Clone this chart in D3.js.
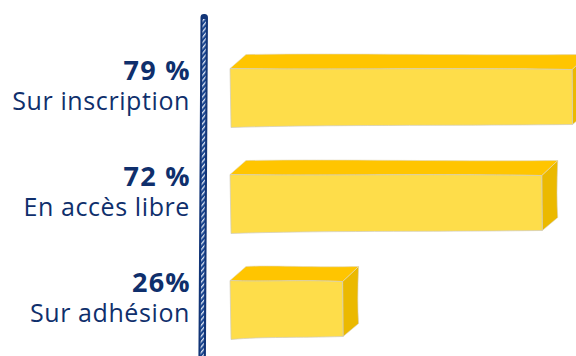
<!DOCTYPE html>
<html>
<head>
<meta charset="utf-8">
<script src="https://cdn.jsdelivr.net/npm/d3@7"></script>
<style>
  html, body { margin: 0; padding: 0; background: #ffffff; }
  svg { display: block; }
</style>
</head>
<body>
<div id="chart"></div>
<script>
// chart values
const categories = ["Sur inscription", "En accès libre", "Sur adhésion"];
const percents = [79, 72, 26];
const percentLabels = ["79 %", "72 %", "26%"];

const svgWidth = 576, svgHeight = 356;
const navy = "#0f2f6c";
const depthX = 16, depthY = -14;   // 3d offset of the blocks
const barH = 57;

const svg = d3.select("#chart")
    .append("svg")
    .attr("width", svgWidth)
    .attr("height", svgHeight);

const x = d3.scaleLinear().domain([0, 100]).range([230, 663]);
const y = d3.scalePoint().domain(categories).range([97, 309]);

// hatched pattern for the axis stroke
const defs = svg.append("defs");
const pat = defs.append("pattern")
    .attr("id", "hatch")
    .attr("patternUnits", "userSpaceOnUse")
    .attr("width", 3.5).attr("height", 3.5)
    .attr("patternTransform", "rotate(-50)");
pat.append("rect").attr("width", 3.5).attr("height", 3.5).attr("fill", "#1b4791");
pat.append("rect").attr("width", 3.5).attr("height", 1.3).attr("fill", "#dfe6f3");

// axis line (hand drawn, slightly tilted)
const axisG = svg.append("g").attr("transform", "rotate(0.35, 204, 14)");
axisG.append("rect")
    .attr("x", 200.5).attr("y", 14)
    .attr("width", 7.5).attr("height", 350)
    .attr("rx", 3.5)
    .attr("fill", "#123577");
axisG.append("rect")
    .attr("x", 202.6).attr("y", 19)
    .attr("width", 3.3).attr("height", 345)
    .attr("fill", "url(#hatch)");

// blocks
const bars = svg.selectAll(".block")
    .data(categories.map((c, i) => ({ cat: c, value: percents[i], label: percentLabels[i] })))
    .enter()
    .append("g")
    .attr("class", "block");

function frontPath(d) {
    const x0 = x(0), x1 = x(d.value);
    const top = y(d.cat) - barH / 2, bot = top + barH;
    const w = x1 - x0;
    return `M${x0},${top}
        C${x0 + w * 0.3},${top + 1.5} ${x0 + w * 0.6},${top - 1} ${x1},${top + 1}
        L${x1 + 0.5},${bot - 1}
        C${x0 + w * 0.6},${bot + 0.5} ${x0 + w * 0.3},${bot - 1} ${x0 + 1},${bot + 2}
        Z`;
}

function topPath(d) {
    const x0 = x(0), x1 = x(d.value);
    const top = y(d.cat) - barH / 2;
    const w = x1 - x0;
    return `M${x0},${top}
        L${x0 + depthX},${top + depthY}
        C${x0 + w * 0.35},${top + depthY - 1.5} ${x0 + w * 0.65},${top + depthY + 1} ${x1 + depthX},${top + depthY}
        L${x1},${top + 1}
        C${x0 + w * 0.6},${top - 1} ${x0 + w * 0.3},${top + 1.5} ${x0},${top}
        Z`;
}

function sidePath(d) {
    const x1 = x(d.value);
    const top = y(d.cat) - barH / 2, bot = top + barH;
    return `M${x1},${top + 1}
        L${x1 + depthX},${top + depthY}
        Q${x1 + depthX - 1.5},${(top + bot) / 2 + depthY / 2} ${x1 + depthX},${bot + depthY}
        L${x1 + 0.5},${bot - 1}
        Z`;
}

bars.append("path")
    .attr("d", sidePath)
    .attr("fill", "#ebb900")
    .attr("stroke", "#d8d2bd").attr("stroke-width", 0.6);

bars.append("path")
    .attr("d", topPath)
    .attr("fill", "#ffc500")
    .attr("stroke", "#e0d8bd").attr("stroke-width", 0.6);

bars.append("path")
    .attr("d", frontPath)
    .attr("fill", "#fedd4a")
    .attr("stroke", "#cfcabb").attr("stroke-width", 0.7);

// labels: percentage and category in one text block
const label = bars.append("text")
    .attr("text-anchor", "end")
    .attr("fill", navy)
    .style("font-family", "'Open Sans', sans-serif");

label.append("tspan")
    .attr("x", 191)
    .attr("y", d => y(d.cat) - 17)
    .style("font-weight", 700)
    .style("font-size", "27px")
    .style("letter-spacing", "1.3px")
    .text(d => d.label);

label.append("tspan")
    .attr("x", 190)
    .attr("y", d => y(d.cat) + 13)
    .style("font-size", "25px")
    .style("letter-spacing", "0.6px")
    .text(d => d.cat);
</script>
</body>
</html>
